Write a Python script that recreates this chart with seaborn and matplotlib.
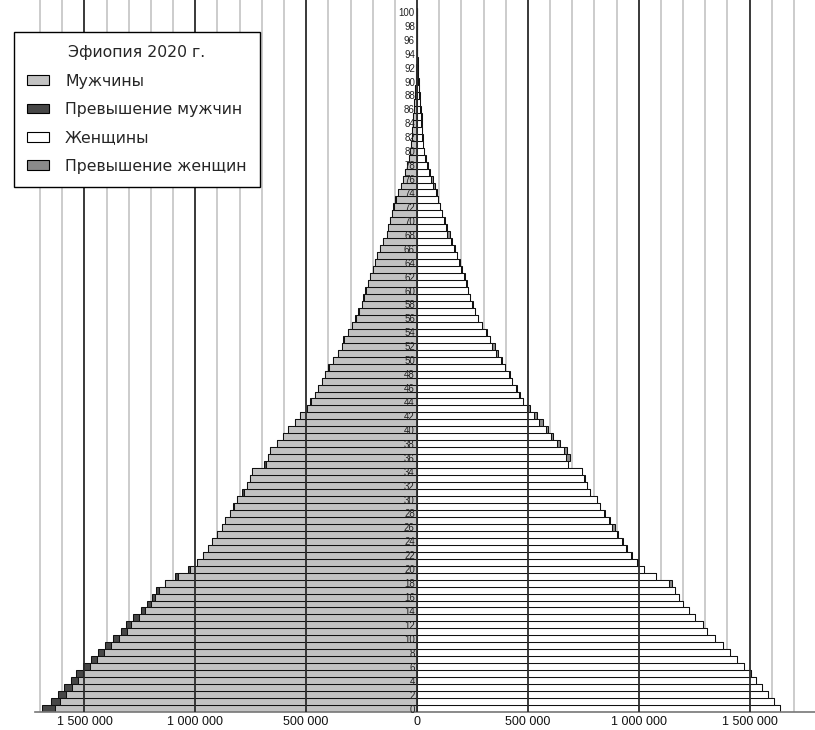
import numpy as np
import pandas as pd
import seaborn as sns
import matplotlib.pyplot as plt
from matplotlib.patches import Patch

# Ethiopia 2020, population by single year of age (thousands)
ages = list(range(0, 101))
male = [
    1690, 1652, 1620, 1590, 1562, 1538, 1508, 1472, 1440, 1407,
    1372, 1335, 1312, 1280, 1247, 1219, 1196, 1176, 1137, 1090,
    1033, 992, 965, 943, 925, 902, 880, 866, 843, 830,
    812, 789, 767, 753, 744, 690, 672, 663, 631, 604,
    582, 550, 528, 496, 483, 460, 447, 428, 415, 401,
    379, 356, 338, 334, 311, 293, 280, 266, 248, 244,
    235, 221, 212, 198, 189, 180, 167, 153, 135, 131,
    122, 113, 108, 99, 86, 72, 64, 55, 44, 38,
    30, 26, 24, 21, 19, 17, 14, 12, 10, 8,
    6, 4, 3, 2, 1.5, 1, 0.7, 0.5, 0.3, 0.2, 0.2,
]
female = [
    1635, 1610, 1582, 1556, 1528, 1506, 1477, 1443, 1411, 1380,
    1345, 1310, 1288, 1256, 1226, 1200, 1180, 1165, 1150, 1080,
    1022, 997, 968, 946, 929, 907, 893, 871, 848, 825,
    812, 780, 767, 758, 744, 680, 690, 677, 645, 613,
    591, 568, 541, 510, 478, 465, 451, 428, 420, 397,
    383, 365, 352, 329, 316, 293, 275, 262, 253, 239,
    230, 226, 217, 203, 194, 180, 171, 158, 149, 135,
    126, 113, 104, 95, 90, 81, 72, 60, 48, 41,
    33, 29, 27, 24, 22, 21, 16, 14, 13, 10,
    8, 5, 4, 3, 2, 1.5, 1, 0.7, 0.5, 0.3, 0.3,
]
age_ticks = list(range(0, 101, 2))
x_ticks = [-1500000, -1000000, -500000, 0, 500000, 1000000, 1500000]

legend_title = "Эфиопия 2020 г."
legend_labels = ["Мужчины", "Превышение мужчин", "Женщины", "Превышение женщин"]

c_male = "#c2c2c2"
c_male_ex = "#474747"
c_female = "#ffffff"
c_female_ex = "#8a8a8a"

df = pd.DataFrame({"age": ages, "male": male, "female": female})
df["male"] = df["male"] * 1000
df["female"] = df["female"] * 1000
df["common"] = np.minimum(df["male"], df["female"])
df["male_neg"] = -df["male"]
df["common_neg"] = -df["common"]

sns.set_style("white")
plt.rcParams["font.family"] = ["Liberation Sans", "DejaVu Sans"]

fig = plt.figure(figsize=(8.15, 7.3), dpi=100)
ax = fig.add_axes([35 / 815, 18 / 730, 780 / 815, 712 / 730])

# thin grid every 100 000 behind the bars
for v in np.arange(-1700000, 1700001, 100000):
    if v % 500000 != 0:
        ax.axvline(v, color="#c8c8c8", lw=1.3, zorder=0)

bar_kw = dict(y="age", orient="y", native_scale=True, width=1, saturation=1,
              errorbar=None, edgecolor="#111111", linewidth=0.75, ax=ax)
# full bars in the "excess" colour, common part drawn over them
sns.barplot(data=df, x="male_neg", color=c_male_ex, **bar_kw)
sns.barplot(data=df, x="common_neg", color=c_male, **bar_kw)
sns.barplot(data=df, x="female", color=c_female_ex, **bar_kw)
sns.barplot(data=df, x="common", color=c_female, **bar_kw)

# heavy lines at 0 and every 500 000 over the bars
for v in x_ticks:
    ax.axvline(v, color="#2a2a2a", lw=1.3, zorder=3)

ax.set_xlim(-1723000, 1795000)
ax.set_ylim(-0.5, 101.7)
ax.set(xlabel="", ylabel="")

ax.set_xticks(x_ticks)
ax.set_xticklabels([f"{abs(v):,}".replace(",", " ") for v in x_ticks])
ax.tick_params(axis="x", length=0, pad=3, labelsize=9, labelcolor="#111111")

ax.spines["left"].set_position(("data", 0))
ax.set_yticks(age_ticks)
ax.set_yticklabels([str(a) for a in age_ticks])
ax.tick_params(axis="y", length=0, pad=1.5, labelsize=7, labelcolor="#222222")
ax.set_axisbelow(False)

for s in ["left", "right", "top"]:
    ax.spines[s].set_visible(False)
ax.spines["bottom"].set_color("#777777")
ax.spines["bottom"].set_linewidth(1.2)

handles = [Patch(facecolor=c, edgecolor="black", linewidth=0.8)
           for c in [c_male, c_male_ex, c_female, c_female_ex]]
leg = fig.legend(handles, legend_labels, title=legend_title,
                 loc="upper left", bbox_to_anchor=(14 / 815, 1 - 32 / 730),
                 frameon=True, fancybox=False, framealpha=1, edgecolor="black",
                 prop={"family": "DejaVu Sans", "size": 11.3},
                 title_fontproperties={"family": "DejaVu Sans", "size": 11.3},
                 labelspacing=0.85, handlelength=1.4, handleheight=0.55,
                 handletextpad=1.0, borderpad=0.85, borderaxespad=0)
leg.get_frame().set_linewidth(1.0)

plt.savefig("out.png", dpi=100)
plt.close()
